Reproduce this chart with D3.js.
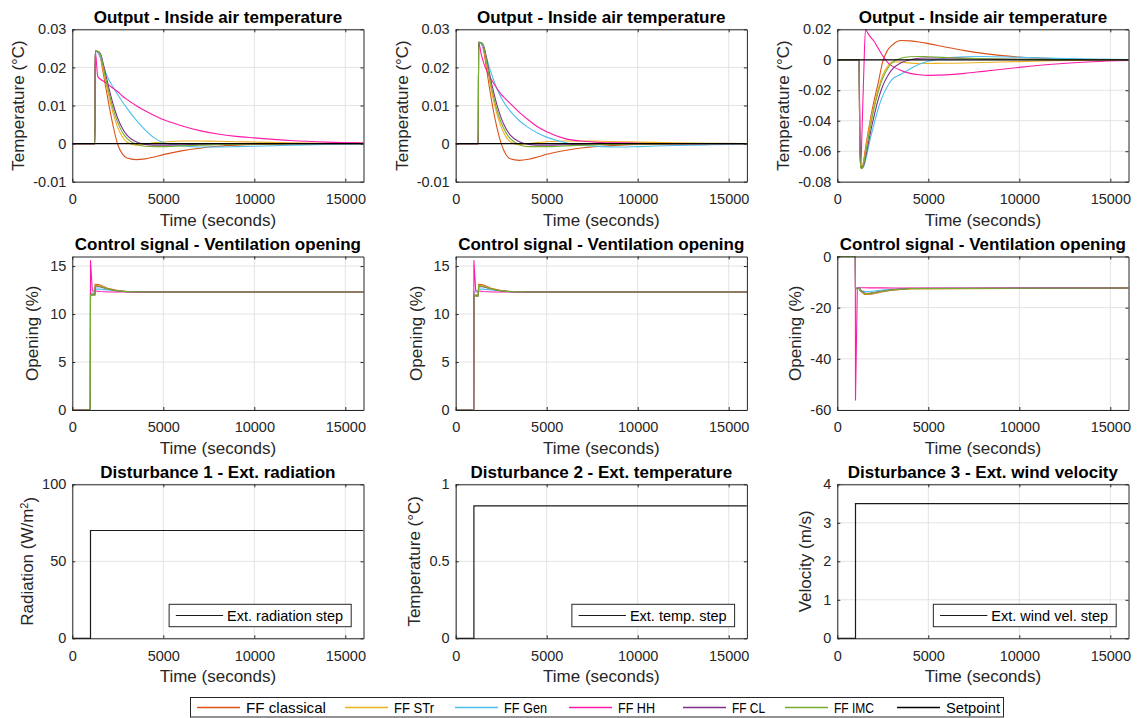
<!DOCTYPE html>
<html>
<head>
<meta charset="utf-8">
<script src="https://cdn.jsdelivr.net/npm/d3@7"></script>
<style>
  body { margin: 0; background: #fff; }
  svg { font-family: "Liberation Sans", Arial, Helvetica, sans-serif; }
</style>
</head>
<body>
<svg id="fig" width="1137" height="718"></svg>
<script>
// ---- data ----
const seriesNames = ["FF classical", "FF STr", "FF Gen", "FF HH", "FF CL", "FF IMC"];
const seriesColors = ["#D95319", "#EDB120", "#4DBEEE", "#FF1AA8", "#7E2F8E", "#77AC30"];
const xTicks = [0, 5000, 10000, 15000];

// output time samples (columns 1 and 2)
const timeOut = [0, 1240, 1260, 1400, 1550, 1700, 1850, 2000, 2250, 2500, 2750, 3000, 3500, 4000, 4500, 5000, 6000, 7000, 8000, 9000, 10000, 12000, 14000, 16000];
// order of each inner array: classical, STr, Gen, HH, CL, IMC
const tempRad = [
    [0, 0, 0.0243, 0.0241, 0.0225, 0.0185, 0.0145, 0.0105, 0.0045, -0.0003, -0.0027, -0.0038, -0.0042, -0.004, -0.0035, -0.0029, -0.0019, -0.0012, -0.0007, -0.0004, -0.0002, -0.0001, 0, 0],
    [0, 0, 0.0243, 0.0241, 0.023, 0.0195, 0.0158, 0.0125, 0.0078, 0.0042, 0.0018, 0.0004, -0.0004, -0.0002, 0.0002, 0.0004, 0.0007, 0.0007, 0.0006, 0.0005, 0.0004, 0.0002, 0.0001, 0],
    [0, 0, 0.0243, 0.0238, 0.0225, 0.0205, 0.0185, 0.0168, 0.0148, 0.0128, 0.011, 0.0093, 0.0062, 0.0036, 0.0015, 0.0003, -0.0006, -0.0009, -0.0009, -0.0008, -0.0007, -0.0004, -0.0002, -0.0001],
    [0, 0, 0.0243, 0.0176, 0.0169, 0.0164, 0.0159, 0.0154, 0.0145, 0.0136, 0.0125, 0.0116, 0.01, 0.0086, 0.0074, 0.0063, 0.0047, 0.0034, 0.0025, 0.0019, 0.0015, 0.0008, 0.0004, 0.0002],
    [0, 0, 0.0243, 0.0242, 0.0236, 0.021, 0.0178, 0.0148, 0.0102, 0.0066, 0.004, 0.0022, 0.0005, -0.0002, -0.0004, -0.0004, -0.0003, -0.0002, -0.0001, 0, 0, 0, 0, 0],
    [0, 0, 0.0243, 0.0242, 0.0233, 0.0203, 0.0168, 0.0137, 0.009, 0.0055, 0.003, 0.0014, -0.0002, -0.0007, -0.0008, -0.0008, -0.0006, -0.0004, -0.0003, -0.0002, -0.0001, 0, 0, 0]
];
const tempTemp = [
    [0, 0, 0.0266, 0.0264, 0.024, 0.0195, 0.0148, 0.0105, 0.0045, 0, -0.0028, -0.004, -0.0044, -0.0041, -0.0035, -0.0028, -0.0018, -0.0011, -0.0007, -0.0004, -0.0002, -0.0001, 0, 0],
    [0, 0, 0.0266, 0.0264, 0.0248, 0.0208, 0.0167, 0.013, 0.0081, 0.0044, 0.0019, 0.0005, -0.0003, 0, 0.0003, 0.0005, 0.0007, 0.0007, 0.0006, 0.0005, 0.0004, 0.0002, 0.0001, 0],
    [0, 0, 0.0266, 0.0262, 0.0248, 0.0225, 0.02, 0.0178, 0.0146, 0.0121, 0.0101, 0.0085, 0.006, 0.0042, 0.0028, 0.0017, 0.0003, -0.0005, -0.0008, -0.0009, -0.0008, -0.0005, -0.0003, -0.0001],
    [0, 0, 0.0266, 0.0235, 0.021, 0.0192, 0.0177, 0.0165, 0.0146, 0.0129, 0.0117, 0.0105, 0.0082, 0.0062, 0.0044, 0.0031, 0.0013, 0.0006, 0.0003, 0.0002, 0.0001, 0, 0, 0],
    [0, 0, 0.0266, 0.0265, 0.0255, 0.0222, 0.0186, 0.0152, 0.0104, 0.0067, 0.004, 0.0022, 0.0005, -0.0002, -0.0004, -0.0004, -0.0003, -0.0002, -0.0001, 0, 0, 0, 0, 0],
    [0, 0, 0.0266, 0.0265, 0.0252, 0.0215, 0.0176, 0.014, 0.0091, 0.0055, 0.003, 0.0013, -0.0003, -0.0008, -0.0008, -0.0008, -0.0006, -0.0004, -0.0003, -0.0002, -0.0001, 0, 0, 0]
];

// output time samples (column 3)
const timeOutWind = [0, 1200, 1230, 1300, 1350, 1450, 1550, 1700, 1850, 2000, 2250, 2500, 2750, 3000, 3500, 4000, 4500, 5000, 6000, 7000, 8000, 10000, 12000, 14000, 16000];
const tempWind = [
    [0, 0, -0.05, -0.0705, -0.0712, -0.066, -0.058, -0.047, -0.037, -0.028, -0.015, -0.001, 0.006, 0.0095, 0.0127, 0.0124, 0.0117, 0.0106, 0.0082, 0.006, 0.0042, 0.0018, 0.0007, 0.0002, 0],
    [0, 0, -0.05, -0.0705, -0.0712, -0.067, -0.06, -0.049, -0.039, -0.031, -0.019, -0.01, -0.0045, -0.0015, -0.0015, -0.0022, -0.0024, -0.0024, -0.0023, -0.0021, -0.0018, -0.0012, -0.0006, -0.0002, 0],
    [0, 0, -0.045, -0.068, -0.0712, -0.07, -0.066, -0.058, -0.05, -0.043, -0.032, -0.0235, -0.0175, -0.013, -0.0095, -0.006, -0.003, -0.001, 0.0012, 0.002, 0.0022, 0.0016, 0.0009, 0.0004, 0.0001],
    [0, 0, -0.035, -0.068, -0.05, -0.01, 0.02, 0.017, 0.0145, 0.0125, 0.0075, 0.0025, -0.0015, -0.004, -0.007, -0.0089, -0.0098, -0.0102, -0.0099, -0.0089, -0.0076, -0.005, -0.0028, -0.0013, -0.0005],
    [0, 0, -0.05, -0.0705, -0.0712, -0.069, -0.064, -0.055, -0.046, -0.038, -0.026, -0.017, -0.011, -0.0065, -0.002, 0, 0.001, 0.0012, 0.0012, 0.001, 0.0007, 0.0003, 0.0001, 0, 0],
    [0, 0, -0.055, -0.071, -0.0715, -0.068, -0.062, -0.052, -0.042, -0.033, -0.021, -0.012, -0.006, -0.002, 0.001, 0.002, 0.0022, 0.002, 0.0015, 0.001, 0.0007, 0.0003, 0.0001, 0, 0]
];

// control signal time samples
const timeCtl = [0, 990, 1000, 1100, 1240, 1260, 1500, 1750, 2000, 2500, 3000, 4000, 16000];
const openRad = [
    [0, 0, 12.1, 12.1, 12.1, 13.1, 13.05, 12.85, 12.65, 12.45, 12.35, 12.3, 12.3],
    [0, 0, 12.1, 12.1, 12.1, 13.0, 12.95, 12.8, 12.62, 12.43, 12.35, 12.3, 12.3],
    [0, 0, 12.2, 12.2, 12.2, 12.6, 12.6, 12.55, 12.5, 12.4, 12.33, 12.3, 12.3],
    [0, 0, 15.6, 12.4, 12.4, 12.4, 12.35, 12.32, 12.3, 12.3, 12.3, 12.3, 12.3],
    [0, 0, 12.0, 12.0, 12.0, 12.85, 12.85, 12.72, 12.58, 12.4, 12.34, 12.3, 12.3],
    [0, 0, 12.0, 12.0, 12.0, 12.95, 12.9, 12.75, 12.6, 12.42, 12.34, 12.3, 12.3]
];
const openTemp = [
    [0, 0, 12.0, 12.0, 12.0, 13.1, 13.05, 12.85, 12.65, 12.45, 12.35, 12.3, 12.3],
    [0, 0, 12.0, 12.0, 12.0, 13.0, 12.95, 12.8, 12.62, 12.43, 12.35, 12.3, 12.3],
    [0, 0, 12.3, 12.3, 12.3, 12.6, 12.6, 12.55, 12.5, 12.4, 12.33, 12.3, 12.3],
    [0, 0, 15.6, 12.4, 12.4, 12.4, 12.35, 12.32, 12.3, 12.3, 12.3, 12.3, 12.3],
    [0, 0, 11.9, 11.9, 11.9, 12.85, 12.85, 12.72, 12.58, 12.4, 12.34, 12.3, 12.3],
    [0, 0, 11.9, 11.9, 11.9, 12.95, 12.9, 12.75, 12.6, 12.42, 12.34, 12.3, 12.3]
];
const openWind = [
    [0, 0, -12.5, -12.5, -12.5, -13.5, -14.8, -14.8, -14.5, -13.8, -13.2, -12.6, -12.3],
    [0, 0, -12.5, -12.5, -12.5, -13.4, -14.6, -14.6, -14.3, -13.7, -13.1, -12.6, -12.3],
    [0, 0, -12.6, -12.6, -12.6, -13.2, -13.7, -13.7, -13.5, -13.1, -12.8, -12.45, -12.3],
    [0, 0, -56.3, -12.2, -12.2, -12.2, -12.2, -12.25, -12.25, -12.28, -12.3, -12.3, -12.3],
    [0, 0, -12.4, -12.4, -12.4, -13.2, -14.3, -14.4, -14.1, -13.5, -13.0, -12.5, -12.3],
    [0, 0, -12.4, -12.4, -12.4, -13.3, -14.5, -14.5, -14.2, -13.6, -13.05, -12.55, -12.3]
];

// setpoint and disturbances
const setpointTime = [0, 16000];
const setpointVals = [0, 0];
const distTime = [0, 1000, 1000, 16000];
const radiationVals = [0, 0, 70, 70];
const extTempVals = [0, 0, 0.86, 0.86];
const windVals = [0, 0, 3.5, 3.5];

// ---- layout ----
const svg = d3.select("#fig");
const colLeft = [72.3, 455.7, 837.3];
const plotW = 291.2;
const rowTop = [29.3, 256.5, 484.3];
const rowBottom = [181.7, 410, 638.3];
const tickColor = "#262626";

const panels = [
    { c: 0, r: 0, title: "Output - Inside air temperature", ylab: "Temperature (°C)", dom: [-0.01, 0.03], ticks: [-0.01, 0, 0.01, 0.02, 0.03], t: timeOut, vals: tempRad, sp: true, smooth: true },
    { c: 1, r: 0, title: "Output - Inside air temperature", ylab: "Temperature (°C)", dom: [-0.01, 0.03], ticks: [-0.01, 0, 0.01, 0.02, 0.03], t: timeOut, vals: tempTemp, sp: true, smooth: true },
    { c: 2, r: 0, title: "Output - Inside air temperature", ylab: "Temperature (°C)", dom: [-0.08, 0.02], ticks: [-0.08, -0.06, -0.04, -0.02, 0, 0.02], t: timeOutWind, vals: tempWind, sp: true, smooth: true },
    { c: 0, r: 1, title: "Control signal - Ventilation opening", ylab: "Opening (%)", dom: [0, 16], ticks: [0, 5, 10, 15], t: timeCtl, vals: openRad },
    { c: 1, r: 1, title: "Control signal - Ventilation opening", ylab: "Opening (%)", dom: [0, 16], ticks: [0, 5, 10, 15], t: timeCtl, vals: openTemp },
    { c: 2, r: 1, title: "Control signal - Ventilation opening", ylab: "Opening (%)", dom: [-60, 0], ticks: [-60, -40, -20, 0], t: timeCtl, vals: openWind },
    { c: 0, r: 2, title: "Disturbance 1 - Ext. radiation", ylab: "Radiation (W/m", sup: "2", ylabEnd: ")", dom: [0, 100], ticks: [0, 50, 100], t: distTime, dist: radiationVals, leg: "Ext. radiation step" },
    { c: 1, r: 2, title: "Disturbance 2 - Ext. temperature", ylab: "Temperature (°C)", dom: [0, 1], ticks: [0, 0.5, 1], t: distTime, dist: extTempVals, leg: "Ext. temp. step" },
    { c: 2, r: 2, title: "Disturbance 3 - Ext. wind velocity", ylab: "Velocity (m/s)", dom: [0, 4], ticks: [0, 1, 2, 3, 4], t: distTime, dist: windVals, leg: "Ext. wind vel. step" }
];

const fmt = d => String(+d.toFixed(4));

panels.forEach((p, i) => {
    const x0 = colLeft[p.c], y0 = rowTop[p.r], y1 = rowBottom[p.r];
    const x = d3.scaleLinear().domain([0, 16000]).range([x0, x0 + plotW]);
    const y = d3.scaleLinear().domain(p.dom).range([y1, y0]);
    const g = svg.append("g");

    // grid
    g.selectAll(".gx").data(xTicks).join("line")
        .attr("x1", d => x(d)).attr("x2", d => x(d)).attr("y1", y0).attr("y2", y1)
        .attr("stroke", "#e3e3e3").attr("stroke-width", 1);
    g.selectAll(".gy").data(p.ticks).join("line")
        .attr("x1", x0).attr("x2", x0 + plotW).attr("y1", d => y(d)).attr("y2", d => y(d))
        .attr("stroke", "#e3e3e3").attr("stroke-width", 1);

    // data
    const clipId = "clip" + i;
    svg.append("clipPath").attr("id", clipId).append("rect")
        .attr("x", x0).attr("y", y0 - 1).attr("width", plotW).attr("height", y1 - y0 + 2);
    const dg = g.append("g").attr("clip-path", `url(#${clipId})`);
    const line = d3.line().x(d => x(d[0])).y(d => y(d[1]))
        .curve(p.smooth ? d3.curveMonotoneX : d3.curveLinear);

    if (p.vals) {
        p.vals.forEach((v, k) => {
            dg.append("path")
                .datum(p.t.map((t, j) => [t, v[j]]))
                .attr("d", line).attr("fill", "none")
                .attr("stroke", seriesColors[k]).attr("stroke-width", 1.1);
        });
    }
    if (p.sp) {
        dg.append("path")
            .datum(setpointTime.map((t, j) => [t, setpointVals[j]]))
            .attr("d", line).attr("fill", "none").attr("stroke", "#000").attr("stroke-width", 1.2);
    }
    if (p.dist) {
        dg.append("path")
            .datum(p.t.map((t, j) => [t, p.dist[j]]))
            .attr("d", line).attr("fill", "none").attr("stroke", "#1a1a1a").attr("stroke-width", 1.2);
    }

    // axes (box with inward ticks)
    const ax = g.append("g").attr("color", tickColor);
    ax.append("g").attr("transform", `translate(0,${y1})`)
        .call(d3.axisBottom(x).tickValues(xTicks).tickSizeInner(-3).tickSizeOuter(0).tickPadding(12).tickFormat(fmt));
    ax.append("g").attr("transform", `translate(0,${y0})`)
        .call(d3.axisTop(x).tickValues(xTicks).tickSizeInner(-3).tickSizeOuter(0).tickFormat(""));
    const yAx = ax.append("g").attr("transform", `translate(${x0},0)`)
        .call(d3.axisLeft(y).tickValues(p.ticks).tickSizeInner(-3).tickSizeOuter(0).tickPadding(6).tickFormat(fmt));
    ax.append("g").attr("transform", `translate(${x0 + plotW},0)`)
        .call(d3.axisRight(y).tickValues(p.ticks).tickSizeInner(-3).tickSizeOuter(0).tickFormat(""));
    ax.selectAll("text").attr("font-size", 14.5).attr("font-family", null).attr("fill", tickColor);
    ax.selectAll(".domain").attr("stroke", tickColor);

    // y label placed left of the widest tick label
    let maxW = 0;
    yAx.selectAll("text").each(function () { maxW = Math.max(maxW, this.getComputedTextLength()); });
    const lx = x0 - 6 - maxW - (maxW < 18 ? 18 : 15);
    const yl = g.append("text")
        .attr("transform", `translate(${lx},${(y0 + y1) / 2}) rotate(-90)`)
        .attr("text-anchor", "middle").attr("dy", "0.35em")
        .attr("font-size", 17).attr("fill", tickColor)
        .text(p.ylab);
    if (p.sup) {
        yl.append("tspan").attr("dy", "-0.5em").attr("font-size", 11).text(p.sup);
        yl.append("tspan").attr("dy", "0.5em").text(p.ylabEnd);
    }

    // x label + title
    g.append("text").attr("x", x0 + plotW / 2).attr("y", y1 + 43.8)
        .attr("text-anchor", "middle").attr("font-size", 17).attr("fill", tickColor)
        .text("Time (seconds)");
    g.append("text").attr("x", x0 + plotW / 2).attr("y", y0 - 6.8)
        .attr("text-anchor", "middle").attr("font-size", 17).attr("font-weight", "bold")
        .attr("fill", "#000").text(p.title);

    // disturbance legend (south-east)
    if (p.leg) {
        const lg = g.append("g");
        const tx = lg.append("text").attr("font-size", 14.5).attr("fill", "#000").text(p.leg);
        const tw = tx.node().getComputedTextLength();
        const bw = tw + 66, bh = 22.4;
        const bx = x0 + plotW - 12.3 - bw, by = y1 - 11.6 - bh;
        lg.insert("rect", "text").attr("x", bx).attr("y", by).attr("width", bw).attr("height", bh)
            .attr("fill", "#fff").attr("stroke", tickColor).attr("stroke-width", 1);
        lg.append("path").attr("d", `M${bx + 6.7},${by + bh / 2}H${bx + 54}`)
            .attr("fill", "none").attr("stroke", "#1a1a1a").attr("stroke-width", 1.2);
        tx.attr("x", bx + 58).attr("y", by + bh / 2 + 5.2);
    }
});

// ---- shared legend at the bottom ----
const legLineX = [197, 345, 455, 569, 683, 785, 897];
const legTextW = [80, 40, 43, 37, 33, 40, 54];
const legNames = seriesNames.concat(["Setpoint"]);
const legColors = seriesColors.concat(["#000"]);
const legend = svg.append("g");
legend.append("rect").attr("x", 190.5).attr("y", 697.5).attr("width", 813).attr("height", 19.5)
    .attr("fill", "#fff").attr("stroke", tickColor).attr("stroke-width", 1);
legNames.forEach((name, k) => {
    legend.append("path")
        .attr("d", `M${legLineX[k]},707.5H${legLineX[k] + 43}`)
        .attr("fill", "none").attr("stroke", legColors[k]).attr("stroke-width", 1.4);
    legend.append("text").attr("x", legLineX[k] + 49).attr("y", 712.5)
        .attr("font-size", 14.5).attr("fill", "#000")
        .attr("textLength", legTextW[k]).attr("lengthAdjust", "spacingAndGlyphs")
        .text(name);
});
</script>
</body>
</html>
